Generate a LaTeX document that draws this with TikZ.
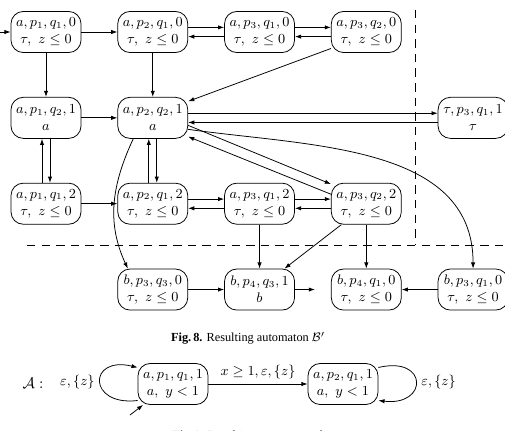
\documentclass[tikz,border=0pt]{standalone}
\usepackage{amsmath,amssymb}
\usepackage{fontspec}
\newfontfamily\capfont{Liberation Serif}
\usepackage{tikz}
\usetikzlibrary{arrows.meta,positioning}

\begin{document}
\begin{tikzpicture}[x=0.65pt, y=0.65pt, node distance=28.6pt and 23.4pt, >={Latex[length=4pt,width=2.8pt]}, line width=0.5pt,
  st/.style={draw, rounded corners=8pt, minimum width=45.5pt, minimum height=26.7pt, inner sep=1.5pt, align=center, font=\small},
  lbl/.style={font=\small},
  capstyle/.style={font=\capfont\fontsize{8}{9.6}\selectfont}]
\useasboundingbox (0,0) rectangle (505,-431);
\node[st] (ap1q10) at (46,-32) {$a,p_1,q_1,0$\\$\tau,\ z\le 0$};
\node[st,right=of ap1q10] (ap2q10) {$a,p_2,q_1,0$\\$\tau,\ z\le 0$};
\node[st,right=of ap2q10] (ap3q10) {$a,p_3,q_1,0$\\$\tau,\ z\le 0$};
\node[st,right=of ap3q10] (ap3q20) {$a,p_3,q_2,0$\\$\tau,\ z\le 0$};
\node[st,below=of ap1q10] (ap1q21) {$a,p_1,q_2,1$\\$a$};
\node[st,below=of ap2q10] (ap2q21) {$a,p_2,q_2,1$\\$a$};
\node[st,below right=28.6pt and 23.4pt of ap3q20] (tp3q11) {$\tau,p_3,q_1,1$\\$\tau$};
\node[st,below=of ap1q21] (ap1q12) {$a,p_1,q_1,2$\\$\tau,\ z\le 0$};
\node[st,below=of ap2q21] (ap2q12) {$a,p_2,q_1,2$\\$\tau,\ z\le 0$};
\node[st,right=of ap2q12] (ap3q12) {$a,p_3,q_1,2$\\$\tau,\ z\le 0$};
\node[st,right=of ap3q12] (ap3q22) {$a,p_3,q_2,2$\\$\tau,\ z\le 0$};
\node[st,below=of ap2q12] (bp3q30) {$b,p_3,q_3,0$\\$\tau,\ z\le 0$};
\node[st,right=of bp3q30] (bp4q31) {$b,p_4,q_3,1$\\$b$};
\node[st,right=of bp4q31] (bp4q10) {$b,p_4,q_1,0$\\$\tau,\ z\le 0$};
\node[st,right=of bp4q10] (bp3q10) {$b,p_3,q_1,0$\\$\tau,\ z\le 0$};
\coordinate (init) at (0,-32);
\coordinate[right=13pt of bp4q31] (bout);
\draw[dash pattern=on 5.5pt off 4pt] (27,-245) -- (505,-245);
\draw[dash pattern=on 5.5pt off 4pt] (415,-10) -- (415,-245);
\draw[->] (init) -- (ap1q10); \draw[->] (ap1q10) -- (ap2q10);
\draw[->] ([yshift=3pt]ap2q10.east) -- ([yshift=3pt]ap3q10.west); \draw[->] ([yshift=-3pt]ap3q10.west) -- ([yshift=-3pt]ap2q10.east);
\draw[->] ([yshift=3pt]ap3q10.east) -- ([yshift=3pt]ap3q20.west); \draw[->] ([yshift=-3pt]ap3q20.west) -- ([yshift=-3pt]ap3q10.east);
\draw[->] (ap1q10) -- (ap1q21); \draw[->] (ap2q10) -- (ap2q21);
\draw[->] (ap3q20.-155) -- (ap2q21.25);
\draw[->] (ap1q21) -- (ap2q21);
\draw[->] ([yshift=3pt]ap2q21.east) -- ([yshift=3pt]tp3q11.west); \draw[->] ([yshift=-3pt]tp3q11.west) -- ([yshift=-3pt]ap2q21.east);
\draw[->] (ap2q21.-12) -- (ap3q22.151); \draw[->] (ap3q22.165) -- (ap2q21.-28);
\draw[->] (ap2q21.-18) to[out=-8,in=90] (bp3q10.north);
\draw[->] (ap2q21.-133) to[out=-115,in=115] (bp3q30.140);
\draw[->] ([xshift=2.6pt]ap1q21.south) -- ([xshift=2.6pt]ap1q12.north); \draw[->] ([xshift=-2.6pt]ap1q12.north) -- ([xshift=-2.6pt]ap1q21.south);
\draw[->] ([xshift=2.6pt]ap2q21.south) -- ([xshift=2.6pt]ap2q12.north); \draw[->] ([xshift=-2.6pt]ap2q12.north) -- ([xshift=-2.6pt]ap2q21.south);
\draw[->] (ap1q12) -- (ap2q12);
\draw[->] ([yshift=3pt]ap2q12.east) -- ([yshift=3pt]ap3q12.west); \draw[->] ([yshift=-3pt]ap3q12.west) -- ([yshift=-3pt]ap2q12.east);
\draw[->] ([yshift=3pt]ap3q12.east) -- ([yshift=3pt]ap3q22.west); \draw[->] ([yshift=-3pt]ap3q22.west) -- ([yshift=-3pt]ap3q12.east);
\draw[->] (ap3q12) -- (bp4q31); \draw[->] (ap3q22.-140) -- (bp4q31.40); \draw[->] (ap3q22) -- (bp4q10);
\draw[->] (bp3q30) -- (bp4q31); \draw[->] (bp4q31) -- (bout); \draw[->] (bp3q10) -- (bp4q10);
\node[capstyle] (cap8) at (248,-338) {\textbf{Fig.\,8.} Resulting automaton $\mathcal{B}'$};
\node (lblA) at (33,-383) {$\mathcal{A}:$};
\node[st] (ap1q11) at (173,-384) {$a,p_1,q_1,1$\\$a,\ y<1$};
\node[st] (ap2q11) at (343,-384) {$a,p_2,q_1,1$\\$a,\ y<1$};
\coordinate (initA) at (130,-415);
\draw[->] (initA) -- (ap1q11.-145);
\draw[->] (ap1q11) -- node[lbl,above] {$x\ge 1,\varepsilon,\{z\}$} (ap2q11);
\draw[->] (ap1q11.205) .. controls +(-50,-6) and +(-50,12) .. node[lbl,left] {$\varepsilon,\{z\}$} (ap1q11.155);
\draw[->] (ap2q11.25) .. controls +(50,12) and +(50,-6) .. node[lbl,right] {$\varepsilon,\{z\}$} (ap2q11.-25);
\node[capstyle,anchor=north] (cap9) at (248,-425) {\textbf{Fig.\,9.} Resulting automaton $\mathcal{A}$};
\end{tikzpicture}
\end{document}
